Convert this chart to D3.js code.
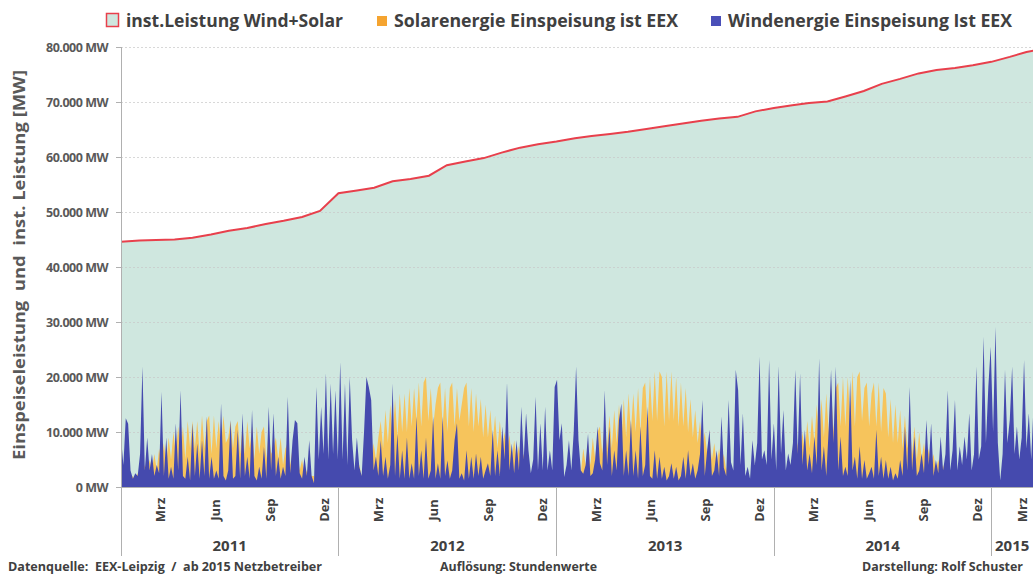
<!DOCTYPE html>
<html><head><meta charset="utf-8">
<script src="https://cdn.jsdelivr.net/npm/d3@7"></script>
<style>
body{margin:0;background:#fff;}
svg{display:block;font-family:"Open Sans",sans-serif;}
text{white-space:pre;}
</style></head><body>
<svg id="c" width="1033" height="574"></svg>
<script>
// ---------- data ----------
const seriesNames = ["inst.Leistung Wind+Solar","Solarenergie Einspeisung ist EEX","Windenergie Einspeisung Ist EEX"];
// installed capacity wind+solar, MW, first of each month from Jan 2011
const capacityMW = [44600,44800,44900,45000,45300,45900,46600,47100,47800,48400,49100,50200,
 53400,53900,54400,55600,56000,56600,58500,59200,59800,60800,61700,62300,
 62800,63400,63800,64200,64600,65100,65600,66100,66600,67000,67300,68300,
 68900,69400,69800,70100,71000,72000,73300,74200,75200,75800,76200,76700,
 77300,78200,79100,79700];
// wind feed-in, thousand MW, one value every 4 days from 1 Jan 2011
const windGW = [
 9,4,12.5,11.5,3,1.5,2.5,2,6,21.9, 3,9,3,6,2,4,2.5,17.3,2,9,
 1.5,3.7,1.5,11.6,3,17.6,2,1.5,5.5,1.2, 11.6,2,7.9,1.5,8.5,2,12.8,1.5,5.5,1.5,
 3,1.5,15.2,2,1.2,3,12.2,1.5,2,10.4, 1.5,13.4,2,5.5,1.5,14,2,1.2,3.7,1.5,
 7.3,1.5,14.6,3,13.4,2,5.5,1.5,3.7,2, 16.4,2.5,8.5,12.2,11.6,2.5,1.5,5.5,2,8.5,
 2,0.7,18.2,5,14.6,6,20.7,5,18.8,6, 17.6,5,
 22.7,5,18.8,4,20,8.5,3,9,3.7,2, 10,20,18.2,15.8,3,5.5,2,8.5,2,5.5,
 1.5,4,18.8,2,9.7,1.5,6.7,1.5,9,1.5, 4.3,1.5,12.8,2,6.7,1.5,9,1.5,3,12.8,
 1.5,4.3,1.5,12.8,2,4.8,1.5,3,8.5,11.6, 1.5,2.5,1.2,6.7,1.5,5.5,1.5,6.1,2,5.5,
 1.5,3,4.3,2,10.4,2,6.7,2,11,5, 19,3,7.9,2.5,8.5,3,14.6,5,13.4,6.7,
 2.5,5,16.4,3,11.6,3,14.6,3,6.7,3, 18.2,
 19.5,8.5,11.6,1.8,4,8.5,3,10,21.9,8.5, 3,2.4,4,9.7,2,2.5,5,11,4.3,3,
 17.6,4,11,2,6.7,3,12.2,15.2,2,6.7, 2,12.2,2,6.7,1.5,11,2,4,14.6,2,
 1.5,6.7,1.5,5.5,1.5,3.7,1.2,2,4.3,1.5, 3.7,1.2,2,5.5,1.5,6.7,2,4.3,1.5,3,
 6,15.8,2,6.7,10.4,2,3,6.7,2,12.8, 3.5,2,15.8,4.5,3,21.3,17.6,4,13.4,2,
 3.7,1.5,8.5,4,8,23.7,5,6.7,4,23.1, 5,
 11.6,3,22,6,14,3,6.1,4,8,21.3, 6,20.7,4,10.4,3,6.1,2.5,9.2,4,23.4,
 3,7.4,2,10.4,21.3,8,21.9,3,9.2,2, 3.7,2,19.5,3,5.5,1.5,7.4,1.5,4.9,1.5,
 2.5,3.7,1.5,10.4,2,5.5,1.5,4.9,1.5,3.7, 1.2,2.5,1.5,4.9,2,11,3,18.2,3,9.2,
 2,3,6.1,2.5,12.2,4,11.6,2,4.9,2.5, 9.2,3,6,17.6,3,6.7,15.8,3,7.4,4,
 9.2,5,13.4,3,6,21.9,5,7.4,27.3,8, 18.2,
 25.5,10,29.1,8,1.2,6,21.3,8,12.2,21.9, 6,11,5,9,23.1,7,13.4,5,15.2,8
];
// solar feed-in (daily peaks), thousand MW, same 4-day steps
const solarGW = [
 1,1.5,1,2,1.5,2,1,2.5,2,3, 4,2,5,3,6,3,7,4,8,4,9,
 5,10,6,11,6,11,5,12,7,12, 7,12,6,13,7,12,13,6,13,7,
 12,7,13,8,9,12,7,11,12,6, 11,6,12,7,11,5,11,6,10,11,
 5,10,6,7,9,5,9,4,7,8, 4,7,3,6,3,5,2,3,3,2,
 2,1,1.5,2,1,1.5,1,1.5,1,1,1,
 1,1.5,1,2,1,2.5,1.5,3,4,2,5,3,6,3, 8,5,9,12,7,
 14,8,15,9,16,9,17,10,17,10, 18,11,18,12,19,11,19,20,12,18,
 11,15,18,19,11,18,10,18,19,11, 18,12,15,18,19,11,18,10,17,11,
 16,9,15,9,14,8,13,7,12,7, 10,6,9.5,5,8.5,5,7.5,4,6,3,
 4,2,3,2,1.5,1,1,1,1,1,1,1,
 1,1,1.5,1,2,1,3,1.5,3,4,2.5, 7,4,8,4,9,5,10,
 11,6,12,7,13,7,14,8,15,8, 16,9,17,10,17,10,18,10,18,19,
 11,20,12,21,12,21,20,11,21,12, 21,12,20,11,19,11,18,10,16,9,
 14,8,12,7,10,6,9,5,8,4, 7,4,6,3,5,3,3,2,
 2,1,1.5,1,1,1,1,1,1,1,1,1,1,1,1,
 1.5,1,2,1.5,3,2,4,2.5, 6,4,8,5,10,6,12,7,13,
 8,15,8,16,9,17,10,18,10,18, 19,11,20,11,20,12,21,11,20,21,
 12,18,19,11,17,19,11,19,10,18, 17,9,16,8,15,8,14,7,13,7,
 12,6,11,5,10,5,8,4,7,4, 6,3,5,3,4,2,3,2,2,1.5,
 2,1,1.5,1,1,1,1,1,1,1,1,1,1,1,
 1,1,1,1.5,1,2,1.5,2,2.5,2,3,2,4,2.5,4.5,3,5,3,6,7
];
const yTicks = [0,10000,20000,30000,40000,50000,60000,70000,80000];
const monthTickLabels = ["Mrz","Jun","Sep","Dez"];
const monthTickIndex = [2,5,8,11];
const yearLabels = ["2011","2012","2013","2014","2015"];
const footerTexts = ["Datenquelle:  EEX-Leipzig  /  ab 2015 Netzbetreiber","Auflösung: Stundenwerte","Darstellung: Rolf Schuster"];
const yTitle = "Einspeiseleistung  und  inst. Leistung [MW]";

// ---------- layout ----------
const L = 121, R = 1033, T = 47, B = 487;
const svg = d3.select("#c");
const start = new Date(2011,0,1), end = new Date(2015,2,12);
const x = d3.scaleTime().domain([start,end]).range([L,R]);
const y = d3.scaleLinear().domain([0,80000]).range([B,T]);
const stepDays = 4;

const capData = capacityMW.map((v,i)=>({d:new Date(2011,i,1),v}));
const feed = windGW.map((w,i)=>({d:d3.timeDay.offset(start,i*stepDays),w:w*1000,s:(solarGW[i]||0)*1000}));

const C = {mint:"#cfe7df", red:"#e8404c", blue:"#454aae", sol:"#f6c45c", text:"#404040", tick:"#595959"};

svg.append("clipPath").attr("id","pc").append("rect").attr("x",L).attr("y",T-5).attr("width",R-L).attr("height",B-T+5);
const g = svg.append("g").attr("clip-path","url(#pc)");

// capacity area
g.append("path").datum(capData).attr("fill",C.mint)
 .attr("d",d3.area().x(d=>x(d.d)).y0(B).y1(d=>y(d.v)));
// grid
g.selectAll(".grid").data(yTicks.filter(v=>v>0)).join("line")
 .attr("x1",L).attr("x2",R).attr("y1",d=>y(d)+0.5).attr("y2",d=>y(d)+0.5)
 .attr("stroke","#c8c8c8").attr("stroke-opacity",0.7).attr("stroke-dasharray","2,2");
// solar
g.append("path").datum(feed).attr("fill",C.sol)
 .attr("d",d3.area().x(d=>x(d.d)).y0(B).y1(d=>y(d.s)));
// wind
g.append("path").datum(feed).attr("fill",C.blue)
 .attr("d",d3.area().x(d=>x(d.d)).y0(B).y1(d=>y(d.w)));
// capacity line
g.append("path").datum(capData).attr("fill","none").attr("stroke",C.red).attr("stroke-width",2)
 .attr("d",d3.line().x(d=>x(d.d)).y(d=>y(d.v)));

// y axis
svg.append("line").attr("x1",L+0.5).attr("x2",L+0.5).attr("y1",T).attr("y2",556).attr("stroke","#b0b0b0");
svg.selectAll(".yt").data(yTicks).join("line").attr("x1",L-5).attr("x2",L).attr("y1",d=>y(d)+0.5).attr("y2",d=>y(d)+0.5).attr("stroke","#b0b0b0");
const fmt = v => d3.format(",")(v).replace(/,/g,".") + " MW";
svg.selectAll(".yl").data(yTicks).join("text").attr("x",108).attr("y",d=>y(d)+4.5)
 .attr("text-anchor","end").attr("font-size",12.5).attr("font-weight",700).attr("fill",C.tick)
 .attr("letter-spacing",-0.5).text(fmt);
svg.append("text").attr("transform","translate(25,265) rotate(-90)").attr("text-anchor","middle")
 .attr("font-size",16.5).attr("font-weight",700).attr("fill",C.tick).attr("textLength",390).attr("lengthAdjust","spacingAndGlyphs")
 .text(yTitle);

// x axis
svg.append("line").attr("x1",L).attr("x2",R).attr("y1",B+0.5).attr("y2",B+0.5).attr("stroke","#b0b0b0");
const yearStarts = yearLabels.map(s=>new Date(+s,0,1));
svg.selectAll(".ys").data(yearStarts.slice(1)).join("line")
 .attr("x1",d=>Math.round(x(d))+0.5).attr("x2",d=>Math.round(x(d))+0.5).attr("y1",B).attr("y2",556).attr("stroke","#b0b0b0");
const mt = [];
yearLabels.forEach(ys=>monthTickIndex.forEach((m,k)=>{const d=new Date(+ys,m,1); if(d<=end) mt.push({d,l:monthTickLabels[k]});}));
svg.selectAll(".ml").data(mt).join("text")
 .attr("transform",d=>`translate(${Math.min(x(d.d)+9,R-6)},510) rotate(-90)`).attr("text-anchor","middle")
 .attr("font-size",13).attr("font-weight",700).attr("fill",C.text).text(d=>d.l);
svg.selectAll(".yl2").data(yearLabels).join("text")
 .attr("x",(s,i)=>{const a=yearStarts[i]; const b=new Date(+s+1,0,1); return (x(a<start?start:a)+x(b>end?end:b))/2;})
 .attr("y",551).attr("text-anchor","middle").attr("font-size",15).attr("font-weight",700).attr("fill",C.text).text(d=>d);

// legend
const leg = svg.append("g").attr("font-size",17).attr("font-weight",700).attr("fill",C.text);
leg.append("rect").attr("x",106.5).attr("y",13.5).attr("width",12).attr("height",13).attr("fill",C.mint).attr("stroke",C.red).attr("stroke-width",1.5);
leg.append("text").attr("x",126).attr("y",27).attr("textLength",217).attr("lengthAdjust","spacingAndGlyphs").text(seriesNames[0]);
leg.append("rect").attr("x",377).attr("y",16).attr("width",10).attr("height",10).attr("fill","#f5a430");
leg.append("text").attr("x",394).attr("y",27).attr("textLength",284).attr("lengthAdjust","spacingAndGlyphs").text(seriesNames[1]);
leg.append("rect").attr("x",711).attr("y",16).attr("width",10).attr("height",10).attr("fill","#4a4fb8");
leg.append("text").attr("x",728).attr("y",27).attr("textLength",284).attr("lengthAdjust","spacingAndGlyphs").text(seriesNames[2]);

// footer
const ft = svg.append("g").attr("font-size",12).attr("font-weight",700).attr("fill",C.text);
ft.append("text").attr("x",8).attr("y",571).attr("textLength",314).attr("lengthAdjust","spacingAndGlyphs").text(footerTexts[0]);
ft.append("text").attr("x",440).attr("y",571).attr("textLength",157).attr("lengthAdjust","spacingAndGlyphs").text(footerTexts[1]);
ft.append("text").attr("x",862).attr("y",571).attr("textLength",161).attr("lengthAdjust","spacingAndGlyphs").text(footerTexts[2]);
</script></body></html>
